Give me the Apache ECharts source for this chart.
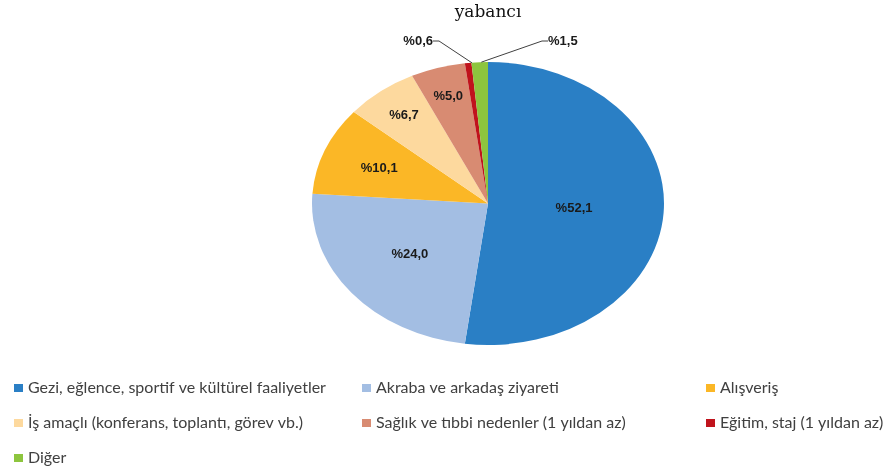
<!DOCTYPE html>
<html lang="tr">
<head>
<meta charset="UTF-8">
<title>yabancı</title>
<script src="https://cdn.jsdelivr.net/npm/echarts@6/dist/echarts.min.js"></script>
<style>
html, body { margin: 0; padding: 0; background: #fff; }
#wrap { position: relative; width: 889px; height: 470px; overflow: hidden; }
/* the pie in the reference is an ellipse: draw it narrower and stretch it */
#pie { position: absolute; left: 0; top: 0; width: 715px; height: 470px; transform: scaleX(1.2438); transform-origin: 0 0; }
#main { position: absolute; left: 0; top: 0; width: 889px; height: 470px; }
</style>
</head>
<body>
<div id="wrap"><div id="pie"></div><div id="main"></div></div>
<script>
var categories = [
    'Gezi, eğlence, sportif ve kültürel faaliyetler',
    'Akraba ve arkadaş ziyareti',
    'Alışveriş',
    'İş amaçlı (konferans, toplantı, görev vb.)',
    'Sağlık ve tıbbi nedenler (1 yıldan az)',
    'Eğitim, staj (1 yıldan az)',
    'Diğer'
];
var values = [52.1, 24.0, 10.1, 6.7, 5.0, 0.6, 1.5];
var colors = ['#2a7fc5', '#a3bee3', '#fbb726', '#fdd99e', '#d88b72', '#c0131c', '#8dc53e'];

var sx = 1.2438;          // horizontal stretch of the pie
var cx = 488, cy = 203.5, r = 141.5;
// where the inside labels sit, as a share of the radius
var labelRadius = [0.47, 0.55, 0.64, 0.75, 0.76];

function fmt(v) { return '%' + v.toFixed(1).replace('.', ','); }

// sectors only, stretched by css
var pieChart = echarts.init(document.getElementById('pie'), null, {renderer: 'svg'});
pieChart.setOption({
    animation: false,
    color: colors,
    series: [{
        type: 'pie',
        silent: true,
        center: [cx / sx, cy],
        radius: r,
        startAngle: 90,
        label: {show: false},
        labelLine: {show: false},
        data: categories.map(function (c, i) { return {name: c, value: values[i]}; })
    }]
});

// title, labels and legend, not stretched
var myChart = echarts.init(document.getElementById('main'));
var legendCols = [[0, 3, 6], [1, 4], [2, 5]];
var legendLeft = [14, 362, 706];

var option = {
    animation: false,
    title: {
        text: 'yabancı',
        left: cx,
        top: 4,
        padding: 0,
        textAlign: 'center',
        textStyle: {fontFamily: 'DejaVu Serif', fontSize: 17, fontWeight: 'normal', color: '#111'}
    },
    legend: legendCols.map(function (col, k) {
        return {
            orient: 'vertical',
            left: legendLeft[k],
            top: 380,
            padding: 0,
            itemGap: 19,
            itemWidth: 9,
            itemHeight: 8,
            icon: 'rect',
            selectedMode: false,
            textStyle: {fontFamily: 'Lato', fontSize: 16, color: '#404040', lineHeight: 16},
            data: col.map(function (i) {
                return {name: categories[i], itemStyle: {color: colors[i], opacity: 1}};
            })
        };
    }),
    series: [{
        type: 'pie',
        center: [cx, cy],
        radius: r,
        startAngle: 90,
        silent: true,
        itemStyle: {color: 'rgba(0,0,0,0)'},
        label: {
            show: true,
            position: 'inside',
            formatter: function (p) { return fmt(p.value); },
            fontFamily: 'Liberation Sans',
            fontWeight: 'bold',
            fontSize: 13,
            color: '#1a1a1a'
        },
        labelLine: {show: false},
        labelLayout: function (p) {
            var i = p.dataIndex, rc = p.labelRect;
            if (i === 5) return {x: cx - 55, y: 41, align: 'right', verticalAlign: 'middle'};
            if (i === 6) return {x: cx + 60, y: 41, align: 'left', verticalAlign: 'middle'};
            var k = labelRadius[i] / 0.5;
            var dx = rc.x + rc.width / 2 - cx, dy = rc.y + rc.height / 2 - cy;
            return {x: cx + dx * sx * k, y: cy + dy * k, align: 'center', verticalAlign: 'middle'};
        },
        data: categories.map(function (c, i) {
            var d = {name: c, value: values[i]};
            if (i >= 5) {
                d.label = {position: 'outside'};
                d.labelLine = {show: true, length: 10, length2: 6, lineStyle: {color: '#404040', width: 1}};
            }
            return d;
        })
    }]
};
myChart.setOption(option);
</script>
</body>
</html>
